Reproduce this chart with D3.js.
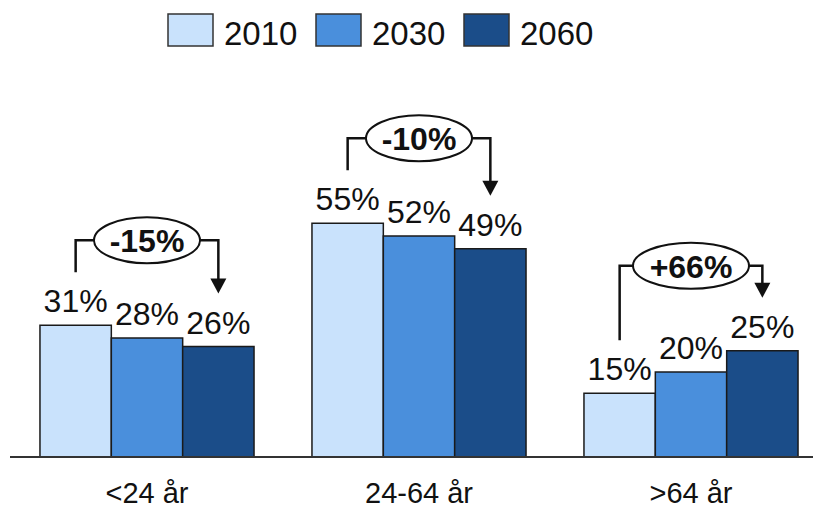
<!DOCTYPE html>
<html>
<head>
<meta charset="utf-8">
<script src="https://cdn.jsdelivr.net/npm/d3@7"></script>
<style>
  html, body { margin: 0; padding: 0; background: #fff; }
  svg { display: block; font-family: "Liberation Sans", Arial, sans-serif; }
</style>
</head>
<body>
<svg id="chart" width="813" height="510"></svg>
<script>
// Age groups and population share per year (percent)
const categories = ["<24 år", "24-64 år", ">64 år"];
const years = ["2010", "2030", "2060"];
const values2010 = [31, 55, 15];
const values2030 = [28, 52, 20];
const values2060 = [26, 49, 25];
const changeLabels = ["-15%", "-10%", "+66%"];
const colors = ["#c9e2fc", "#4a8fdc", "#1b4d89"];

const series = [values2010, values2030, values2060];

const svg = d3.select("#chart");
const baseY = 457;

const x0 = d3.scaleBand()
  .domain(categories)
  .range([11, 827])
  .paddingInner(0.213)
  .paddingOuter(0.1065);

const x1 = d3.scaleBand()
  .domain(years)
  .range([0, x0.bandwidth()])
  .padding(0);

const y = d3.scaleLinear().domain([0, 100]).range([baseY, 32]);

// Bars
const groups = svg.append("g").selectAll("g")
  .data(categories)
  .join("g")
  .attr("transform", d => `translate(${x0(d)},0)`);

groups.selectAll("rect")
  .data((c, i) => years.map((yr, j) => ({ yr, v: series[j][i], j })))
  .join("rect")
  .attr("x", d => x1(d.yr))
  .attr("y", d => y(d.v))
  .attr("width", x1.bandwidth())
  .attr("height", d => baseY - y(d.v))
  .attr("fill", d => colors[d.j])
  .attr("stroke", "#1a1a1a")
  .attr("stroke-width", 1.5);

// Value labels
groups.selectAll("text.val")
  .data((c, i) => years.map((yr, j) => ({ yr, v: series[j][i] })))
  .join("text")
  .attr("class", "val")
  .attr("x", d => x1(d.yr) + x1.bandwidth() / 2)
  .attr("y", d => y(d.v) - 13)
  .attr("text-anchor", "middle")
  .attr("font-size", 32)
  .attr("fill", "#111")
  .text(d => d.v + "%");

// Baseline axis
svg.append("line")
  .attr("x1", 10).attr("x2", 813)
  .attr("y1", baseY).attr("y2", baseY)
  .attr("stroke", "#333").attr("stroke-width", 2);

// Category labels
const xAxis = d3.axisBottom(x0).tickSize(0).tickPadding(0);
const axisG = svg.append("g").attr("transform", `translate(0,${baseY})`).call(xAxis);
axisG.select(".domain").remove();
axisG.selectAll("text")
  .attr("y", 46)
  .attr("dy", 0)
  .attr("font-size", 29)
  .attr("font-family", "'Liberation Sans', Arial, sans-serif")
  .attr("fill", "#111");

// Change callouts: bracket from first to last bar with an ellipse label
const ellipseRx = [53, 53, 58];
const callouts = svg.append("g");
categories.forEach((c, i) => {
  const g = callouts.append("g");
  const xa = x0(c) + x1(years[0]) + x1.bandwidth() / 2;
  const xb = x0(c) + x1(years[2]) + x1.bandwidth() / 2;
  const cx = x0(c) + x0.bandwidth() / 2;
  const topY = d3.min(years.map((yr, j) => y(series[j][i])));
  const hy = topY - 85;
  const ya = y(series[0][i]) - 53;
  const tipY = y(series[2][i]) - 53;
  const rx = ellipseRx[i], ry = 23;

  g.append("path")
    .attr("d", `M${xa},${ya} V${hy} H${cx - rx}`)
    .attr("fill", "none").attr("stroke", "#111").attr("stroke-width", 2.5);
  g.append("path")
    .attr("d", `M${cx + rx},${hy} H${xb} V${tipY - 14}`)
    .attr("fill", "none").attr("stroke", "#111").attr("stroke-width", 2.5);
  g.append("path")
    .attr("d", `M${xb - 8},${tipY - 15} L${xb + 8},${tipY - 15} L${xb},${tipY} Z`)
    .attr("fill", "#111");
  g.append("ellipse")
    .attr("cx", cx).attr("cy", hy)
    .attr("rx", rx).attr("ry", ry)
    .attr("fill", "#fff").attr("stroke", "#111").attr("stroke-width", 2);
  g.append("text")
    .attr("x", cx).attr("y", hy + 12)
    .attr("text-anchor", "middle")
    .attr("font-size", 32).attr("font-weight", "bold")
    .attr("fill", "#111")
    .text(changeLabels[i]);
});

// Legend
const legend = svg.append("g");
years.forEach((yr, j) => {
  const lx = 168 + j * 148;
  legend.append("rect")
    .attr("x", lx).attr("y", 14)
    .attr("width", 45).attr("height", 32)
    .attr("fill", colors[j])
    .attr("stroke", "#333").attr("stroke-width", 1.5);
  legend.append("text")
    .attr("x", lx + 56).attr("y", 45)
    .attr("font-size", 33)
    .attr("fill", "#111")
    .text(yr);
});
</script>
</body>
</html>
